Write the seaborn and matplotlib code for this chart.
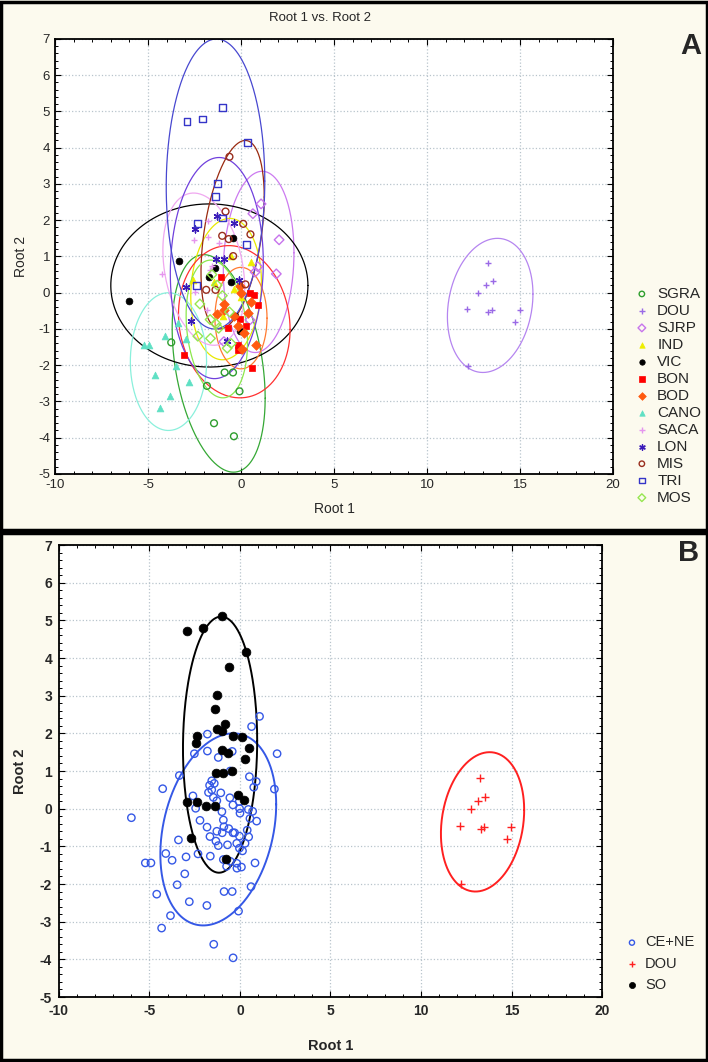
import numpy as np
import pandas as pd
import matplotlib
matplotlib.use("Agg")
import matplotlib.pyplot as plt
from matplotlib.patches import Rectangle
from matplotlib.ticker import MultipleLocator
import seaborn as sns

# discriminant scores (Root 1, Root 2) per locality
sgra = [(-3.75, -1.37), (-1.83, -2.57), (-0.08, -2.72), (-1.45, -3.6), (-0.38, -3.96),
        (-0.88, -2.2), (-0.43, -2.2)]
dou = [(13.27, 0.81), (13.15, 0.21), (13.54, 0.31), (12.75, 0.0), (12.16, -0.46),
       (13.29, -0.54), (13.5, -0.49), (14.99, -0.48), (14.76, -0.81), (12.21, -2.01)]
sjrp = [(1.08, 2.45), (0.64, 2.18), (2.05, 1.46), (1.9, 0.52), (0.76, 0.57),
        (0.9, 0.72), (0.48, -0.75), (-0.92, -1.35)]
ind = [(0.52, 0.85), (-0.54, 1.0), (-0.39, 0.1), (-0.98, -0.64), (-2.6, 0.34),
       (-1.47, 0.3), (0.0, -0.12)]
vic = [(-6.0, -0.24), (-3.35, 0.88), (-0.43, 1.52), (-1.74, 0.43), (-1.42, 0.67),
       (-0.56, 0.29), (-0.3, -0.64), (-0.03, -1.05)]
bon = [(-1.06, 0.42), (0.7, -0.07), (0.92, -0.33), (-0.03, -0.73), (-0.69, -0.96),
       (0.28, -0.92), (-0.17, -1.58), (0.61, -2.07), (-3.05, -1.73), (0.46, -0.02),
       (-0.18, -1.45)]
bod = [(-0.92, -0.3), (-0.89, -0.48), (-0.02, 0.0), (0.4, -0.57), (-0.39, -0.64),
       (0.14, -1.12), (0.83, -1.44), (0.08, -1.55), (-1.28, -0.6), (-0.04, 0.19),
       (0.55, -0.26), (-0.18, -0.92)]
cano = [(-3.4, -0.83), (-4.1, -1.19), (-2.98, -1.28), (-5.23, -1.44), (-4.92, -1.44),
        (-3.47, -2.02), (-4.6, -2.27), (-2.8, -2.47), (-3.84, -2.84), (-4.33, -3.17)]
saca = [(-1.8, 1.98), (-2.52, 1.46), (-1.8, 1.53), (-1.2, 1.36), (-1.56, 0.74),
        (-4.27, 0.53), (-1.82, -0.49), (-2.45, 0.01), (-1.68, 0.62)]
lon = [(-1.28, 2.12), (-0.38, 1.92), (-2.45, 1.75), (-1.35, 0.94), (-0.93, 0.94),
       (-2.93, 0.17), (-0.09, 0.36), (-2.7, -0.77), (-0.75, -1.34)]
mis = [(-0.62, 3.75), (-0.83, 2.24), (0.12, 1.9), (0.51, 1.61), (-1.01, 1.57),
       (-0.66, 1.48), (-0.42, 1.01), (0.24, 0.23), (-1.87, 0.08), (-1.37, 0.08)]
tri = [(-2.9, 4.72), (-2.05, 4.79), (-1.0, 5.11), (0.33, 4.15), (-1.26, 3.01),
       (-1.37, 2.65), (-2.35, 1.92), (-1.0, 2.06), (0.28, 1.33), (-2.4, 0.19)]
mos = [(-2.21, -0.31), (-2.32, -1.2), (-1.64, -1.26), (-1.33, -0.86), (-0.62, -0.53),
       (-0.74, -1.53), (-0.53, -1.4), (-1.28, 0.21), (-1.0, -0.08), (-1.56, 0.5),
       (-1.66, -0.74), (-1.2, -0.98)]

groups = ['SGRA', 'DOU', 'SJRP', 'IND', 'VIC', 'BON', 'BOD', 'CANO', 'SACA',
          'LON', 'MIS', 'TRI', 'MOS']
group_points = [sgra, dou, sjrp, ind, vic, bon, bod, cano, saca, lon, mis, tri, mos]

# 95% ellipses per locality: centre, half extents, correlation
ell_cx = [-1.2, 13.4, 0.95, -0.8, -1.7, -0.36, 0.0, -3.9, -2.0, -1.3, -0.45, -1.37, -1.3]
ell_cy = [-1.95, -0.35, 0.85, 0.1, 0.2, -0.8, -0.7, -1.9, 0.65, 0.68, 1.6, 3.0, -1.0]
ell_sx = [2.5, 2.3, 1.9, 1.9, 5.3, 3.0, 1.4, 2.05, 2.2, 2.5, 1.7, 2.65, 1.65]
ell_sy = [3.0, 1.85, 2.5, 1.95, 2.25, 2.1, 1.4, 1.9, 2.1, 3.05, 2.6, 4.0, 1.9]
ell_r = [-0.32, 0.17, 0.1, 0.1, 0.0, -0.1, 0.0, 0.0, -0.25, 0.05, 0.4, 0.02, -0.2]

# regional grouping for panel B
regions = ['CE+NE', 'DOU', 'SO']
region_of = {'DOU': 'DOU', 'LON': 'SO', 'MIS': 'SO', 'TRI': 'SO'}
reg_cx = [-1.2, 13.4, -1.1]
reg_cy = [-0.55, -0.35, 1.7]
reg_sx = [3.2, 2.3, 2.05]
reg_sy = [2.55, 1.85, 3.4]
reg_r = [0.26, 0.17, 0.03]

rows = []
for g, pts in zip(groups, group_points):
    for x, y in pts:
        rows.append({'Root 1': x, 'Root 2': y, 'group': g, 'region': region_of.get(g, 'CE+NE')})
df = pd.DataFrame(rows)

styles = {
    'SGRA': dict(marker='o', color='#2E9E2E', open=True),
    'DOU': dict(marker='+', color='#9A6AE6', open=False),
    'SJRP': dict(marker='D', color='#C774EC', open=True),
    'IND': dict(marker='^', color='#EEEE00', open=False),
    'VIC': dict(marker='o', color='black', open=False),
    'BON': dict(marker='s', color='#FF0000', open=False),
    'BOD': dict(marker='D', color='#FF5A10', open=False),
    'CANO': dict(marker='^', color='#5FE0C4', open=False),
    'SACA': dict(marker='+', color='#E596EE', open=False),
    'LON': dict(marker=(6, 2, 0), color='#3A1AB8', open=False),
    'MIS': dict(marker='o', color='#992E1E', open=True),
    'TRI': dict(marker='s', color='#3535C8', open=True),
    'MOS': dict(marker='D', color='#96E650', open=True),
}
ell_colors = ['#35A835', '#B585F0', '#CC7AF0', '#E8E800', 'black', '#FF3030', '#FF7A30',
              '#8AF0DC', '#F0A8F0', '#7040DD', '#9A2A10', '#4848D0', '#8CE84C']
reg_styles = {
    'CE+NE': dict(marker='o', color='#3558E6', open=True, s=28),
    'DOU': dict(marker='+', color='#FF2020', open=False, s=40),
    'SO': dict(marker='o', color='black', open=False, s=40),
}
reg_colors = ['#3558E6', '#FF2020', 'black']

sns.set_style("ticks")
plt.rcParams['font.family'] = ['Liberation Sans', 'DejaVu Sans']
plt.rcParams['axes.unicode_minus'] = False

bg = '#FCFAEE'
fig = plt.figure(figsize=(7.08, 10.62), dpi=100, facecolor=bg)
axA = fig.add_axes([0.0777, 0.5537, 0.788, 0.4096])
axB = fig.add_axes([0.0833, 0.0612, 0.767, 0.4256])


def scatter_group(ax, sub, st, size, label):
    kw = dict(marker=st['marker'], s=size, label=label, linewidth=1.0, zorder=3)
    if st['open']:
        kw.update(facecolor='none', edgecolor=st['color'], color=st['color'])
    elif st['marker'] in ('+', 'x') or isinstance(st['marker'], tuple):
        kw.update(color=st['color'], edgecolor=st['color'])
    else:
        kw.update(color=st['color'], edgecolor=st['color'], linewidth=0.5)
    sns.scatterplot(data=sub, x='Root 1', y='Root 2', ax=ax, legend=False, **kw)


def draw_ellipse(ax, cx, cy, sx, sy, r, color, lw):
    t = np.linspace(0, 2 * np.pi, 300)
    ex = cx + sx * np.cos(t)
    ey = cy + sy * (r * np.cos(t) + np.sqrt(1 - r ** 2) * np.sin(t))
    ax.plot(ex, ey, color=color, linewidth=lw, zorder=2)


for g in groups:
    scatter_group(axA, df[df['group'] == g], styles[g], 24, g)
for i in range(len(groups)):
    draw_ellipse(axA, ell_cx[i], ell_cy[i], ell_sx[i], ell_sy[i], ell_r[i], ell_colors[i], 0.9)

for r in regions:
    st = reg_styles[r]
    scatter_group(axB, df[df['region'] == r], st, st['s'], r)
for i in range(len(regions)):
    draw_ellipse(axB, reg_cx[i], reg_cy[i], reg_sx[i], reg_sy[i], reg_r[i], reg_colors[i], 1.4)

for ax in (axA, axB):
    ax.set_facecolor('white')
    ax.set_xlim(-10, 20)
    ax.set_ylim(-5, 7)
    ax.set_xticks(range(-10, 21, 5))
    ax.set_yticks(range(-5, 8))
    ax.xaxis.set_minor_locator(MultipleLocator(1))
    ax.yaxis.set_minor_locator(MultipleLocator(0.2))
    ax.tick_params(which='both', direction='in', top=True, right=True, color='black')
    ax.tick_params(which='major', length=4, width=0.8)
    ax.tick_params(which='minor', length=2.5, width=0.7)
    ax.grid(True, which='major', linestyle=':', color='#B8C4CC', linewidth=0.9)
    ax.set_axisbelow(True)
    for sp in ax.spines.values():
        sp.set_color('black')
        sp.set_linewidth(1.3)

axA.tick_params(which='major', labelsize=9.5)
axA.set_xlabel('Root 1', fontsize=10, labelpad=8)
axA.set_ylabel('Root 2', fontsize=10, labelpad=7)

axB.tick_params(which='major', labelsize=10, pad=5)
for t in axB.get_xticklabels() + axB.get_yticklabels():
    t.set_fontweight('bold')
axB.set_xlabel('Root 1', fontsize=10.5, fontweight='bold', labelpad=15)
axB.set_ylabel('Root 2', fontsize=10.5, fontweight='bold', labelpad=9)

h, l = axA.get_legend_handles_labels()
fig.legend(h, l, loc='upper left', bbox_to_anchor=(0.885, 0.737), frameon=False,
           fontsize=11, handletextpad=0.5, labelspacing=0.195, handlelength=1.0,
           borderpad=0, markerscale=0.8)
h, l = axB.get_legend_handles_labels()
fig.legend(h, l, loc='upper left', bbox_to_anchor=(0.872, 0.126), frameon=False,
           fontsize=10.5, handletextpad=0.4, labelspacing=0.5, handlelength=1.0,
           borderpad=0, markerscale=0.7)

fig.text(0.452, 0.983, 'Root 1 vs. Root 2', ha='center', va='center', fontsize=9.5)
fig.text(0.975, 0.957, 'A', ha='center', va='center', fontsize=21, fontweight='bold')
fig.text(0.972, 0.479, 'B', ha='center', va='center', fontsize=21, fontweight='bold')

fig.add_artist(Rectangle((0.002, 0.5005), 0.996, 0.4975, transform=fig.transFigure,
                         fill=False, edgecolor='black', linewidth=2.5))
fig.add_artist(Rectangle((0.002, 0.002), 0.996, 0.4965, transform=fig.transFigure,
                         fill=False, edgecolor='black', linewidth=2.5))

fig.savefig('out.png', dpi=100, facecolor=bg)
